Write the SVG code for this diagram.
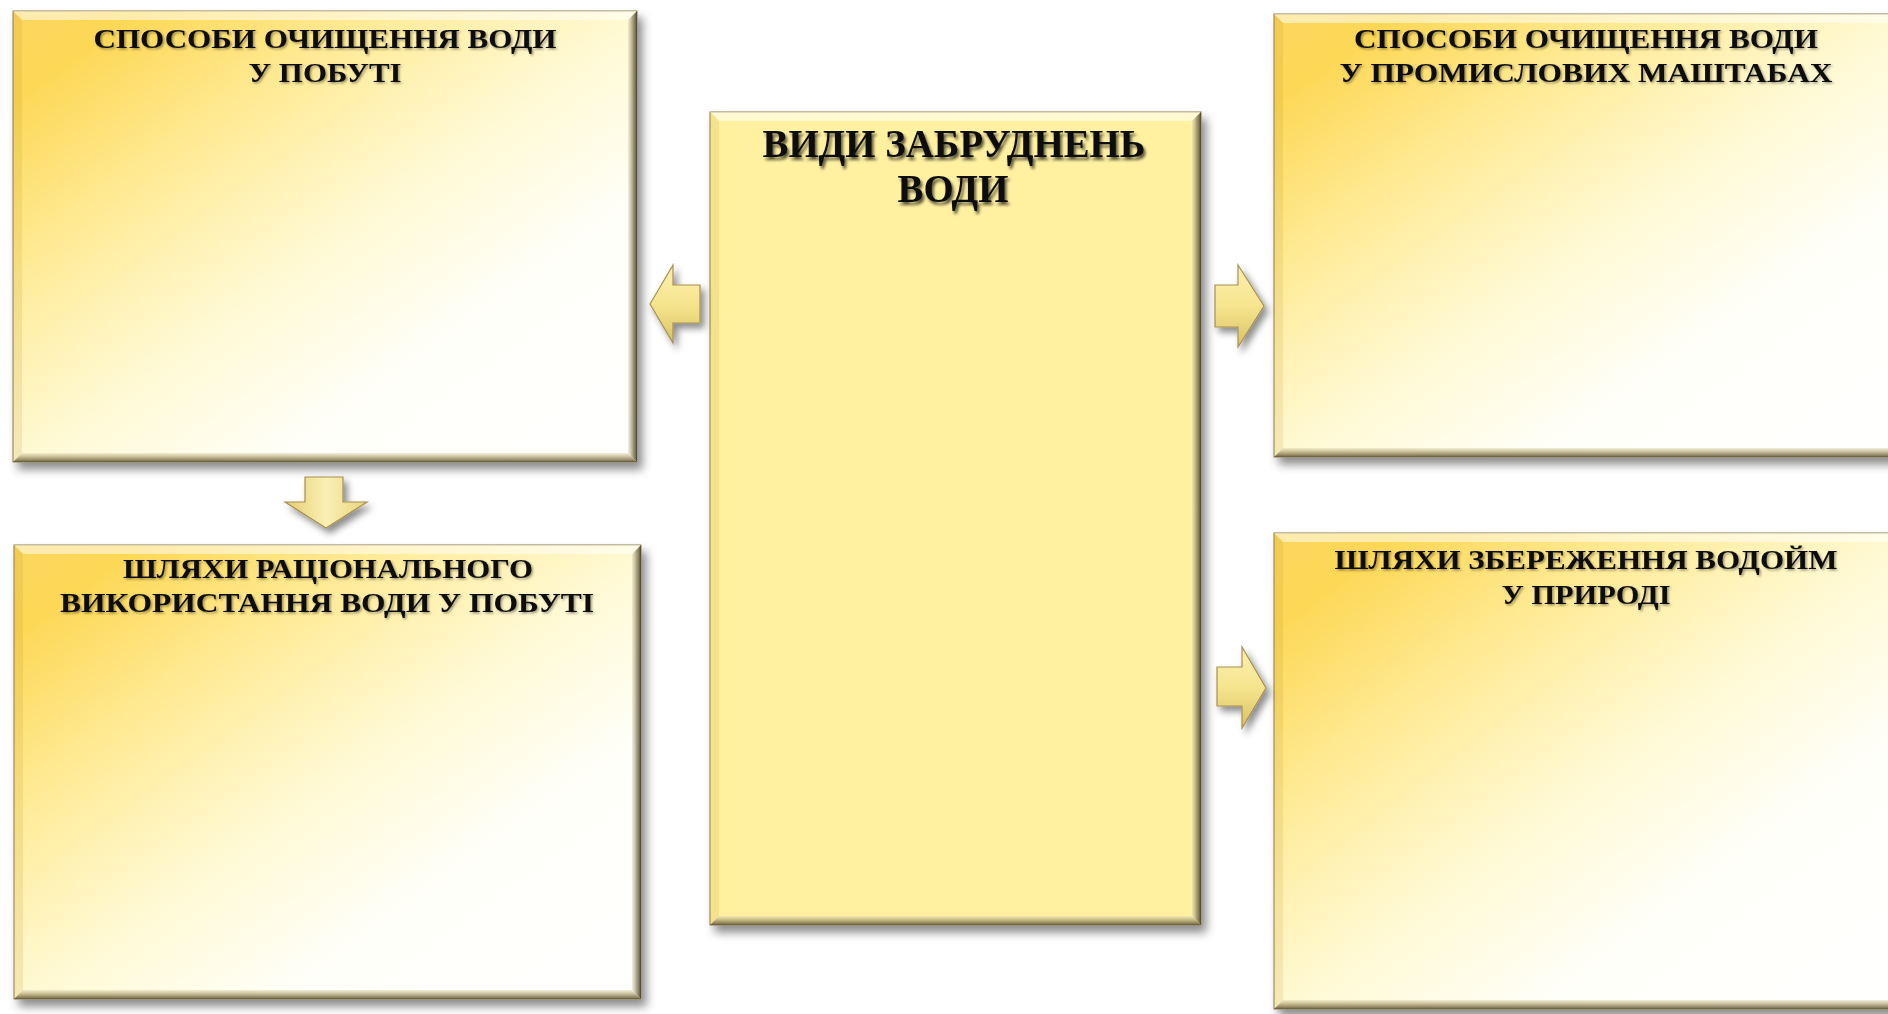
<svg xmlns="http://www.w3.org/2000/svg" width="1888" height="1014" viewBox="0 0 1888 1014">
<defs>
  <linearGradient id="gFill" x1="0" y1="0" x2="1" y2="1">
    <stop offset="0" stop-color="#FCD65E"/>
    <stop offset="0.1" stop-color="#FDD857"/>
    <stop offset="0.3" stop-color="#FFEB98"/>
    <stop offset="0.5" stop-color="#FFF9D2"/>
    <stop offset="0.72" stop-color="#FFFFFA"/>
    <stop offset="1" stop-color="#FFFFFF"/>
  </linearGradient>
  <linearGradient id="gRight" x1="0" y1="0" x2="1" y2="0">
    <stop offset="0" stop-color="#d8d2b0" stop-opacity="0.4"/>
    <stop offset="0.5" stop-color="#8a805c" stop-opacity="0.7"/>
    <stop offset="1" stop-color="#3e3826" stop-opacity="0.9"/>
  </linearGradient>
  <linearGradient id="gBottom" x1="0" y1="0" x2="0" y2="1">
    <stop offset="0" stop-color="#e8e2c0" stop-opacity="0.6"/>
    <stop offset="0.5" stop-color="#a89a6c" stop-opacity="0.75"/>
    <stop offset="1" stop-color="#5a5034" stop-opacity="0.9"/>
  </linearGradient>
  <linearGradient id="gArrowH" x1="0" y1="0" x2="0" y2="1">
    <stop offset="0" stop-color="#FBEFB0"/>
    <stop offset="0.5" stop-color="#F6E58E"/>
    <stop offset="1" stop-color="#D9C264"/>
  </linearGradient>
  <linearGradient id="gArrowV" x1="0" y1="0" x2="1" y2="0">
    <stop offset="0" stop-color="#E3CC70"/>
    <stop offset="0.5" stop-color="#FBF0B4"/>
    <stop offset="1" stop-color="#E8D47C"/>
  </linearGradient>
  <filter id="shadow" x="-5%" y="-5%" width="115%" height="115%">
    <feDropShadow dx="5" dy="7" stdDeviation="5" flood-color="#000" flood-opacity="0.45"/>
  </filter>
  <filter id="ashadow" x="-30%" y="-30%" width="170%" height="170%">
    <feDropShadow dx="4" dy="5" stdDeviation="3.5" flood-color="#000" flood-opacity="0.45"/>
  </filter>
  <filter id="tshadow" x="-5%" y="-20%" width="110%" height="150%">
    <feDropShadow dx="1.5" dy="1.5" stdDeviation="1" flood-color="#000" flood-opacity="0.4"/>
  </filter>
  <filter id="tshadow2" x="-5%" y="-20%" width="110%" height="150%">
    <feDropShadow dx="2" dy="3" stdDeviation="1.8" flood-color="#000" flood-opacity="0.65"/>
  </filter>
</defs>
<style>
  .box { fill: url(#gFill); stroke: #8c7c4c; stroke-width: 1; filter: url(#shadow); }
  .boxc { fill: #FFF1A0; stroke: #8c7c4c; stroke-width: 1; filter: url(#shadow); }
  .bt { fill: #ffffff; opacity: 0.5; }
  .bl { fill: #b89020; opacity: 0.15; }
  .br { fill: url(#gRight); }
  .bb { fill: url(#gBottom); }
  .t { font-family: "Liberation Serif", "Times New Roman", serif; font-weight: bold; font-size: 28px; fill: #111; text-anchor: middle; filter: url(#tshadow); }
  .tc { font-family: "Liberation Serif", "Times New Roman", serif; font-weight: bold; font-size: 39px; fill: #111; text-anchor: middle; filter: url(#tshadow2); }
  .ah { fill: url(#gArrowH); stroke: #a89050; stroke-width: 1.2; filter: url(#ashadow); }
  .av { fill: url(#gArrowV); stroke: #a89050; stroke-width: 1.2; filter: url(#ashadow); }
</style>
<rect width="1888" height="1014" fill="#ffffff"/>

<g id="node-household">
  <rect class="box" x="13" y="11" width="624" height="451"/>
  <polygon class="bt" points="13,11 637,11 628,20 22,20"/>
  <polygon class="bl" points="13,11 22,20 22,453 13,462"/>
  <polygon class="br" points="637,11 637,462 628,453 628,20"/>
  <polygon class="bb" points="13,462 22,453 628,453 637,462"/>
  <text class="t" x="325" y="48" textLength="463" lengthAdjust="spacingAndGlyphs">СПОСОБИ  ОЧИЩЕННЯ  ВОДИ</text>
  <text class="t" x="325" y="82" textLength="153" lengthAdjust="spacingAndGlyphs">У ПОБУТІ</text>
</g>

<g id="node-rational">
  <rect class="box" x="14" y="545" width="627" height="454"/>
  <polygon class="bt" points="14,545 641,545 632,554 23,554"/>
  <polygon class="bl" points="14,545 23,554 23,990 14,999"/>
  <polygon class="br" points="641,545 641,999 632,990 632,554"/>
  <polygon class="bb" points="14,999 23,990 632,990 641,999"/>
  <text class="t" x="328" y="578" textLength="410" lengthAdjust="spacingAndGlyphs">ШЛЯХИ РАЦІОНАЛЬНОГО</text>
  <text class="t" x="327" y="612" textLength="534" lengthAdjust="spacingAndGlyphs">ВИКОРИСТАННЯ  ВОДИ У ПОБУТІ</text>
</g>

<g id="node-pollution">
  <rect class="boxc" x="710" y="112" width="491" height="813"/>
  <polygon class="bt" points="710,112 1201,112 1192,121 719,121"/>
  <polygon class="bl" points="710,112 719,121 719,916 710,925"/>
  <polygon class="br" points="1201,112 1201,925 1192,916 1192,121"/>
  <polygon class="bb" points="710,925 719,916 1192,916 1201,925"/>
  <text class="tc" x="954" y="157" textLength="383" lengthAdjust="spacingAndGlyphs">ВИДИ ЗАБРУДНЕНЬ</text>
  <text class="tc" x="953" y="202" textLength="111" lengthAdjust="spacingAndGlyphs">ВОДИ</text>
</g>

<g id="node-industrial">
  <rect class="box" x="1274" y="14" width="626" height="443"/>
  <polygon class="bt" points="1274,14 1900,14 1891,23 1283,23"/>
  <polygon class="bl" points="1274,14 1283,23 1283,448 1274,457"/>
  <polygon class="bb" points="1274,457 1283,448 1891,448 1900,457"/>
  <text class="t" x="1586" y="48" textLength="464" lengthAdjust="spacingAndGlyphs">СПОСОБИ  ОЧИЩЕННЯ  ВОДИ</text>
  <text class="t" x="1586" y="82" textLength="493" lengthAdjust="spacingAndGlyphs">У ПРОМИСЛОВИХ  МАШТАБАХ</text>
</g>

<g id="node-nature">
  <rect class="box" x="1274" y="533" width="626" height="476"/>
  <polygon class="bt" points="1274,533 1900,533 1891,542 1283,542"/>
  <polygon class="bl" points="1274,533 1283,542 1283,1000 1274,1009"/>
  <polygon class="bb" points="1274,1009 1283,1000 1891,1000 1900,1009"/>
  <text class="t" x="1586" y="569" textLength="503" lengthAdjust="spacingAndGlyphs">ШЛЯХИ ЗБЕРЕЖЕННЯ ВОДОЙМ</text>
  <text class="t" x="1586" y="604" textLength="169" lengthAdjust="spacingAndGlyphs">У ПРИРОДІ</text>
</g>

<g id="connectors">
  <polygon class="ah" points="650,304 673,265 673,285 700,285 700,323 673,323 673,343"/>
  <polygon class="ah" points="1215,285 1238,285 1238,265 1264,306 1238,347 1238,327 1215,327"/>
  <polygon class="ah" points="1217,667 1242,667 1242,647 1266,688 1242,728 1242,706 1217,706"/>
  <polygon class="av" points="305,477 343,477 343,502 367,502 326,528 285,502 305,502"/>
</g>
</svg>
